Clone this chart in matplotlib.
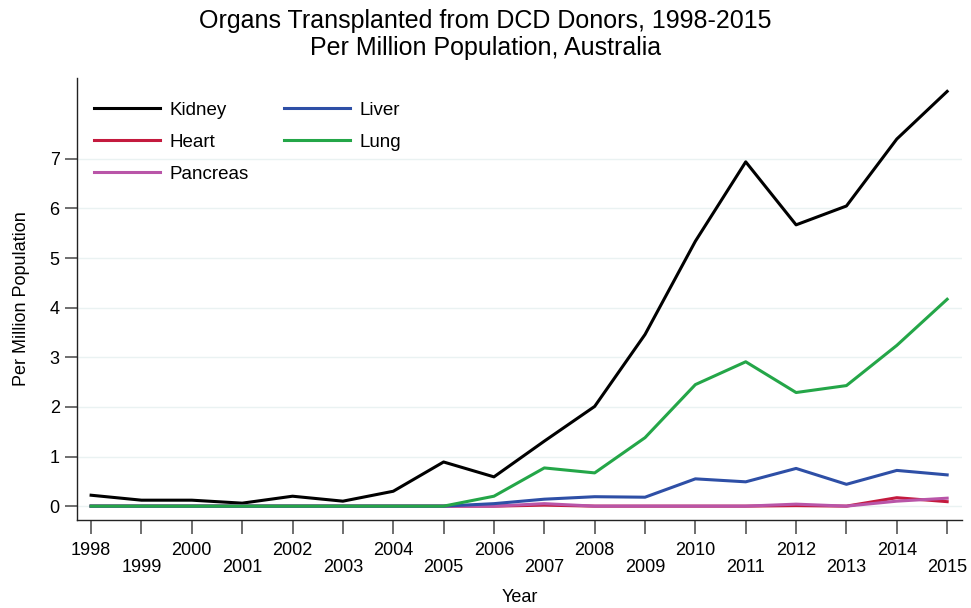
import matplotlib.pyplot as plt

# Dados (por milhão de habitantes)
anos = list(range(1998, 2016))
kidney = [0.22, 0.12, 0.12, 0.06, 0.20, 0.10, 0.30, 0.89, 0.59, 1.31, 2.01, 3.46, 5.34, 6.94, 5.67, 6.05, 7.40, 8.36]
liver = [0, 0, 0, 0, 0, 0, 0, 0, 0.05, 0.14, 0.19, 0.18, 0.55, 0.49, 0.76, 0.44, 0.72, 0.63]
heart = [0, 0, 0, 0, 0, 0, 0, 0, 0, 0.02, 0, 0, 0, 0, 0.01, 0, 0.17, 0.09]
lung = [0, 0, 0, 0, 0, 0, 0, 0, 0.20, 0.77, 0.67, 1.38, 2.45, 2.91, 2.29, 2.43, 3.24, 4.17]
pancreas = [0, 0, 0, 0, 0, 0, 0, 0, 0, 0.05, 0, 0, 0, 0, 0.04, 0, 0.10, 0.16]

plt.rcParams['font.family'] = ['Liberation Sans', 'DejaVu Sans']

fig = plt.figure(figsize=(9.71, 6.08), dpi=100)
ax = fig.add_axes([0.0793, 0.1447, 0.9117, 0.7270])

lw = 2.2
ax.plot(anos, kidney, color='black', lw=lw, label='Kidney')
ax.plot(anos, heart, color='#c41a3e', lw=lw, label='Heart')
ax.plot(anos, pancreas, color='#b955a8', lw=lw, label='Pancreas')
ax.plot(anos, liver, color='#2e4fa6', lw=lw, label='Liver')
ax.plot(anos, lung, color='#24a648', lw=lw, label='Lung')

ax.set_xlim(1997.72, 2015.3)
ax.set_ylim(-0.28, 8.63)

ax.set_yticks(range(0, 8))
ax.yaxis.grid(True, color='#eaf2f2', lw=1)
ax.set_axisbelow(True)

ax.set_xticks(anos)
rotulos = [str(a) if i % 2 == 0 else '\n' + str(a) for i, a in enumerate(anos)]
ax.set_xticklabels(rotulos, fontsize=13, linespacing=0.95)
ax.tick_params(axis='y', labelsize=13, length=9, color='#555555', width=1.2)
ax.tick_params(axis='x', length=10, color='#555555', width=1.2, pad=6)

for lado in ['top', 'right']:
    ax.spines[lado].set_visible(False)
for lado in ['left', 'bottom']:
    ax.spines[lado].set_color('#222222')
    ax.spines[lado].set_linewidth(1)

ax.set_xlabel('Year', fontsize=13, labelpad=10)
ax.set_ylabel('Per Million Population', fontsize=13, labelpad=14)
fig.suptitle('Organs Transplanted from DCD Donors, 1998-2015\nPer Million Population, Australia',
             fontsize=18, y=0.986, linespacing=1.18)

ax.legend(ncol=2, frameon=False, fontsize=13.5, loc='upper left',
          bbox_to_anchor=(0.0005, 0.985), handlelength=3.5, columnspacing=1.9,
          labelspacing=0.8, handletextpad=0.5)

plt.savefig('out.png', dpi=100)
